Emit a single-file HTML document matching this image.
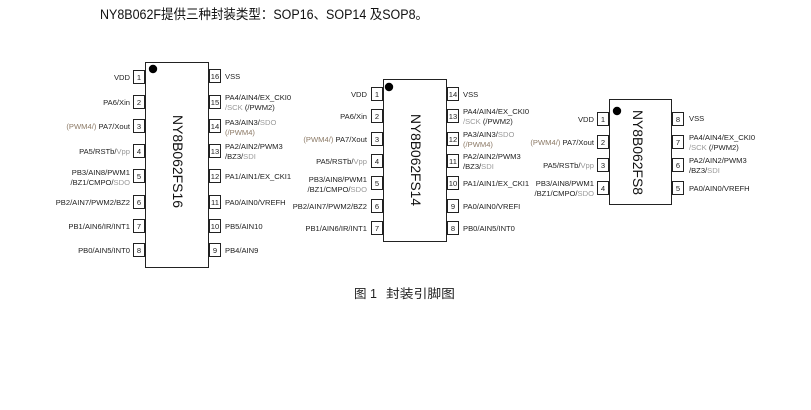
<!DOCTYPE html>
<html><head><meta charset="utf-8"><style>
html,body{margin:0;padding:0;background:#fff;}
svg{display:block;}
text{font-family:"Liberation Sans","Noto Sans CJK SC",sans-serif;}
.l{font-size:7.6px;fill:#222;text-anchor:end;}
.r{font-size:7.6px;fill:#222;}
.n{font-size:7.6px;fill:#222;text-anchor:middle;}
.g{fill:#9a9a9a;}
.o{fill:#8c7a66;}
.b{fill:#fff;stroke:#222;stroke-width:1;}
.v{font-size:14px;fill:#111;}
</style></head><body>
<svg width="811" height="410" viewBox="0 0 811 410" xmlns="http://www.w3.org/2000/svg">
<text x="100" y="19" textLength="328" lengthAdjust="spacingAndGlyphs" style="font-size:13.5px;fill:#111;">NY8B062F提供三种封装类型：SOP16、SOP14 及SOP8。</text>
<text x="354" y="298" style="font-size:12.5px;fill:#222;">图 1</text>
<text x="386" y="298" textLength="69" lengthAdjust="spacingAndGlyphs" style="font-size:12.5px;fill:#222;">封装引脚图</text>

<!-- Chip 1 SOP16 -->
<rect class="b" x="145.5" y="62.5" width="63" height="205"/>
<circle cx="153" cy="69" r="4.2" fill="#000"/>
<text class="v" transform="translate(173,115) rotate(90)" textLength="93" lengthAdjust="spacingAndGlyphs">NY8B062FS16</text>
<g>
<rect class="b" x="133.5" y="70.5" width="11" height="13"/><text class="n" x="139" y="80">1</text>
<rect class="b" x="133.5" y="95.5" width="11" height="13"/><text class="n" x="139" y="105">2</text>
<rect class="b" x="133.5" y="119.5" width="11" height="13"/><text class="n" x="139" y="129">3</text>
<rect class="b" x="133.5" y="144.5" width="11" height="13"/><text class="n" x="139" y="154">4</text>
<rect class="b" x="133.5" y="169.5" width="11" height="13"/><text class="n" x="139" y="179">5</text>
<rect class="b" x="133.5" y="195.5" width="11" height="13"/><text class="n" x="139" y="205">6</text>
<rect class="b" x="133.5" y="219.5" width="11" height="13"/><text class="n" x="139" y="229">7</text>
<rect class="b" x="133.5" y="243.5" width="11" height="13"/><text class="n" x="139" y="253">8</text>
<rect class="b" x="209.5" y="69.5" width="11" height="13"/><text class="n" x="215" y="79">16</text>
<rect class="b" x="209.5" y="95.5" width="11" height="13"/><text class="n" x="215" y="105">15</text>
<rect class="b" x="209.5" y="119.5" width="11" height="13"/><text class="n" x="215" y="129">14</text>
<rect class="b" x="209.5" y="144.5" width="11" height="13"/><text class="n" x="215" y="154">13</text>
<rect class="b" x="209.5" y="169.5" width="11" height="13"/><text class="n" x="215" y="179">12</text>
<rect class="b" x="209.5" y="195.5" width="11" height="13"/><text class="n" x="215" y="205">11</text>
<rect class="b" x="209.5" y="219.5" width="11" height="13"/><text class="n" x="215" y="229">10</text>
<rect class="b" x="209.5" y="243.5" width="11" height="13"/><text class="n" x="215" y="253">9</text>
</g>
<text class="l" x="130" y="80">VDD</text>
<text class="l" x="130" y="105">PA6/Xin</text>
<text class="l" x="130" y="129"><tspan class="o">(PWM4/)</tspan> PA7/Xout</text>
<text class="l" x="130" y="154">PA5/RSTb/<tspan class="g">Vpp</tspan></text>
<text class="l" x="130" y="175">PB3/AIN8/PWM1</text>
<text class="l" x="130" y="185">/BZ1/CMPO/<tspan class="g">SDO</tspan></text>
<text class="l" x="130" y="205">PB2/AIN7/PWM2/BZ2</text>
<text class="l" x="130" y="229">PB1/AIN6/IR/INT1</text>
<text class="l" x="130" y="253">PB0/AIN5/INT0</text>
<text class="r" x="225" y="79">VSS</text>
<text class="r" x="225" y="100">PA4/AIN4/EX_CKI0</text>
<text class="r" x="225" y="110"><tspan class="g">/SCK</tspan> (/PWM2)</text>
<text class="r" x="225" y="125">PA3/AIN3/<tspan class="g">SDO</tspan></text>
<text class="r" x="225" y="135"><tspan class="o">(/PWM4)</tspan></text>
<text class="r" x="225" y="149">PA2/AIN2/PWM3</text>
<text class="r" x="225" y="159">/BZ3/<tspan class="g">SDI</tspan></text>
<text class="r" x="225" y="179">PA1/AIN1/EX_CKI1</text>
<text class="r" x="225" y="205">PA0/AIN0/VREFH</text>
<text class="r" x="225" y="229">PB5/AIN10</text>
<text class="r" x="225" y="253">PB4/AIN9</text>

<!-- Chip 2 SOP14 -->
<rect class="b" x="383.5" y="79.5" width="63" height="162"/>
<circle cx="389" cy="87" r="4.2" fill="#000"/>
<text class="v" transform="translate(411,114) rotate(90)" textLength="92" lengthAdjust="spacingAndGlyphs">NY8B062FS14</text>
<g>
<rect class="b" x="371.5" y="87.5" width="11" height="13"/><text class="n" x="377" y="97">1</text>
<rect class="b" x="371.5" y="109.5" width="11" height="13"/><text class="n" x="377" y="119">2</text>
<rect class="b" x="371.5" y="132.5" width="11" height="13"/><text class="n" x="377" y="142">3</text>
<rect class="b" x="371.5" y="154.5" width="11" height="13"/><text class="n" x="377" y="164">4</text>
<rect class="b" x="371.5" y="176.5" width="11" height="13"/><text class="n" x="377" y="186">5</text>
<rect class="b" x="371.5" y="199.5" width="11" height="13"/><text class="n" x="377" y="209">6</text>
<rect class="b" x="371.5" y="221.5" width="11" height="13"/><text class="n" x="377" y="231">7</text>
<rect class="b" x="447.5" y="87.5" width="11" height="13"/><text class="n" x="453" y="97">14</text>
<rect class="b" x="447.5" y="109.5" width="11" height="13"/><text class="n" x="453" y="119">13</text>
<rect class="b" x="447.5" y="132.5" width="11" height="13"/><text class="n" x="453" y="142">12</text>
<rect class="b" x="447.5" y="154.5" width="11" height="13"/><text class="n" x="453" y="164">11</text>
<rect class="b" x="447.5" y="176.5" width="11" height="13"/><text class="n" x="453" y="186">10</text>
<rect class="b" x="447.5" y="199.5" width="11" height="13"/><text class="n" x="453" y="209">9</text>
<rect class="b" x="447.5" y="221.5" width="11" height="13"/><text class="n" x="453" y="231">8</text>
</g>
<text class="l" x="367" y="97">VDD</text>
<text class="l" x="367" y="119">PA6/Xin</text>
<text class="l" x="367" y="142"><tspan class="o">(PWM4/)</tspan> PA7/Xout</text>
<text class="l" x="367" y="164">PA5/RSTb/<tspan class="g">Vpp</tspan></text>
<text class="l" x="367" y="182">PB3/AIN8/PWM1</text>
<text class="l" x="367" y="192">/BZ1/CMPO/<tspan class="g">SDO</tspan></text>
<text class="l" x="367" y="209">PB2/AIN7/PWM2/BZ2</text>
<text class="l" x="367" y="231">PB1/AIN6/IR/INT1</text>
<text class="r" x="463" y="97">VSS</text>
<text class="r" x="463" y="114">PA4/AIN4/EX_CKI0</text>
<text class="r" x="463" y="124"><tspan class="g">/SCK</tspan> (/PWM2)</text>
<text class="r" x="463" y="137">PA3/AIN3/<tspan class="g">SDO</tspan></text>
<text class="r" x="463" y="147"><tspan class="o">(/PWM4)</tspan></text>
<text class="r" x="463" y="159">PA2/AIN2/PWM3</text>
<text class="r" x="463" y="169">/BZ3/<tspan class="g">SDI</tspan></text>
<text class="r" x="463" y="186">PA1/AIN1/EX_CKI1</text>
<text class="r" x="463" y="209">PA0/AIN0/VREFI</text>
<text class="r" x="463" y="231">PB0/AIN5/INT0</text>

<!-- Chip 3 SOP8 -->
<rect class="b" x="609.5" y="99.5" width="62" height="105"/>
<circle cx="617" cy="111" r="4.2" fill="#000"/>
<text class="v" transform="translate(633,110) rotate(90)" textLength="85" lengthAdjust="spacingAndGlyphs">NY8B062FS8</text>
<g>
<rect class="b" x="597.5" y="112.5" width="11" height="13"/><text class="n" x="603" y="122">1</text>
<rect class="b" x="597.5" y="135.5" width="11" height="13"/><text class="n" x="603" y="145">2</text>
<rect class="b" x="597.5" y="158.5" width="11" height="13"/><text class="n" x="603" y="168">3</text>
<rect class="b" x="597.5" y="181.5" width="11" height="13"/><text class="n" x="603" y="191">4</text>
<rect class="b" x="672.5" y="112.5" width="11" height="13"/><text class="n" x="678" y="122">8</text>
<rect class="b" x="672.5" y="135.5" width="11" height="13"/><text class="n" x="678" y="145">7</text>
<rect class="b" x="672.5" y="158.5" width="11" height="13"/><text class="n" x="678" y="168">6</text>
<rect class="b" x="672.5" y="181.5" width="11" height="13"/><text class="n" x="678" y="191">5</text>
</g>
<text class="l" x="594" y="122">VDD</text>
<text class="l" x="594" y="145"><tspan class="o">(PWM4/)</tspan> PA7/Xout</text>
<text class="l" x="594" y="168">PA5/RSTb/<tspan class="g">Vpp</tspan></text>
<text class="l" x="594" y="186">PB3/AIN8/PWM1</text>
<text class="l" x="594" y="196">/BZ1/CMPO/<tspan class="g">SDO</tspan></text>
<text class="r" x="689" y="121">VSS</text>
<text class="r" x="689" y="140">PA4/AIN4/EX_CKI0</text>
<text class="r" x="689" y="150"><tspan class="g">/SCK</tspan> (/PWM2)</text>
<text class="r" x="689" y="163">PA2/AIN2/PWM3</text>
<text class="r" x="689" y="173">/BZ3/<tspan class="g">SDI</tspan></text>
<text class="r" x="689" y="191">PA0/AIN0/VREFH</text>
</svg>
</body></html>
